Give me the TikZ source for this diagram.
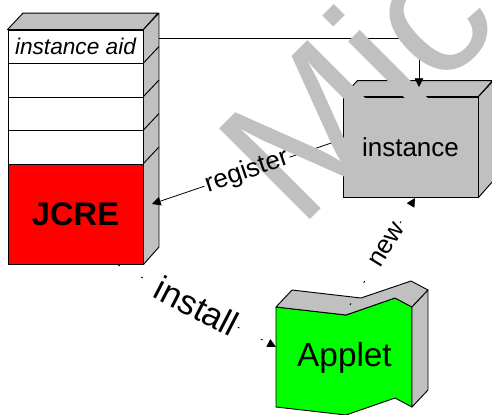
\documentclass[tikz,border=0pt]{standalone}
\usepackage{fontspec}
\setmainfont{Liberation Sans}
\usetikzlibrary{arrows.meta}
\definecolor{boxgray}{RGB}{192,192,192}
\definecolor{jred}{RGB}{255,0,0}
\definecolor{agreen}{RGB}{0,255,0}
\pgfdeclarelayer{wm}
\pgfdeclarelayer{top}
\pgfsetlayers{main,wm,top}
\begin{document}
\begin{tikzpicture}[x=0.75pt,y=-0.75pt,
  outline/.style={draw=black,line width=0.7pt},
  cell/.style={outline,fill=white,minimum width=101.25pt,minimum height=25.125pt,inner sep=0pt,anchor=center},
  face/.style={outline,fill=boxgray,line join=round},
  conn/.style={draw=black,line width=0.6pt},
  arr/.style={conn,-{Triangle[length=6.5pt,width=6.5pt]}},
  dashconn/.style={dash pattern=on 1.5pt off 18pt},
  lbl/.style={inner sep=1pt,font=\fontsize{19.5}{22}\selectfont},
]
\useasboundingbox (0,0) rectangle (492,414);

% JCRE stack
\node[cell,font=\itshape\fontsize{17}{20}\selectfont] (aid) at (75.5,46.75) {instance aid};
\node[cell] (r2) at (75.5,80.25) {};
\node[cell] (r3) at (75.5,113.75) {};
\node[cell] (r4) at (75.5,147.25) {};
\node[cell,fill=jred,minimum height=75pt,font=\bfseries\fontsize{24.5}{28}\selectfont] (jcre) at (75.5,214) {JCRE};
\draw[face] (aid.north west) -- ++(15.5,-16.5) -- ++(135,0) -- (aid.north east) -- cycle;
\draw[face] (aid.north east) -- ++(15.5,-16.5) -- ++(0,234) -- (jcre.south east) -- cycle;
\foreach \r in {r2,r3,r4,jcre} \draw[outline] (\r.north east) -- ++(15.5,-16.5);

% instance box
\node[outline,fill=boxgray,minimum width=101.25pt,minimum height=75pt,inner sep=0pt,font=\fontsize{19.5}{22}\selectfont] (inst) at (410.5,147) {instance};
\draw[face] (inst.north west) -- ++(15,-16) -- ++(135,0) -- (inst.north east) -- cycle;
\draw[face] (inst.north east) -- ++(15,-16) -- ++(0,100) -- (inst.south east) -- cycle;

% Applet shape
\coordinate (a1) at (276,307);
\coordinate (a2) at (346,315);
\coordinate (a3) at (395,298);
\coordinate (a4) at (412,307);
\coordinate (a5) at (412,407);
\coordinate (a6) at (395,398);
\coordinate (a7) at (346,415);
\coordinate (a8) at (276,407);
\coordinate (b1) at (292,290);
\coordinate (b2) at (361,298);
\coordinate (b3) at (411,281);
\coordinate (b4) at (428,290);
\draw[face,fill=agreen] (a1) -- (a2) -- (a3) -- (a4) -- (a5) -- (a6) -- (a7) -- (a8) -- cycle;
\draw[face] (a1) -- (b1) -- (b2) -- (b3) -- (b4) -- (a4) -- (a3) -- (a2) -- cycle;
\draw[face] (a4) -- (b4) -- ++(0,100) -- (a5) -- cycle;
\node[font=\fontsize{25}{30}\selectfont,anchor=base,inner sep=0pt] (applet) at (344.5,366) {Applet};

% connector end points
\coordinate (aidside) at (158.5,38);
\coordinate (insttop) at (419,87);
\coordinate (instleft) at (343,139);
\coordinate (jcreside) at (152,204);
\coordinate (jcrebot) at (118,265);
\coordinate (appletleft) at (276,347);
\coordinate (applettop) at (350,305);
\coordinate (instbot) at (415,198);

% labels
\begin{pgfonlayer}{top}
\node[lbl,rotate=18.8] (reg) at (247,171.7) {register};
\node[lbl,rotate=-27.4,font=\fontsize{26}{30}\selectfont] (inl) at (197,306) {install};
\node[lbl,rotate=58.5] (newl) at (387,245) {new};
\end{pgfonlayer}

% connectors
\draw[arr] (aidside) -| (insttop);
\draw[conn] (instleft) -- (reg);
\draw[arr] (reg) -- (jcreside);
\draw[conn,dashconn] (jcrebot) -- (inl);
\draw[arr,dashconn] (inl) -- (appletleft);
\draw[conn,dashconn] (applettop) -- (newl);
\draw[arr,dashconn] (newl) -- (instbot);

% watermark
\begin{pgfonlayer}{wm}
\node[text=boxgray,inner sep=0pt,anchor=base west,rotate=45,font=\fontsize{140}{140}\selectfont] (wmark) at (299,231) {Mic};
\end{pgfonlayer}
\end{tikzpicture}
\end{document}
